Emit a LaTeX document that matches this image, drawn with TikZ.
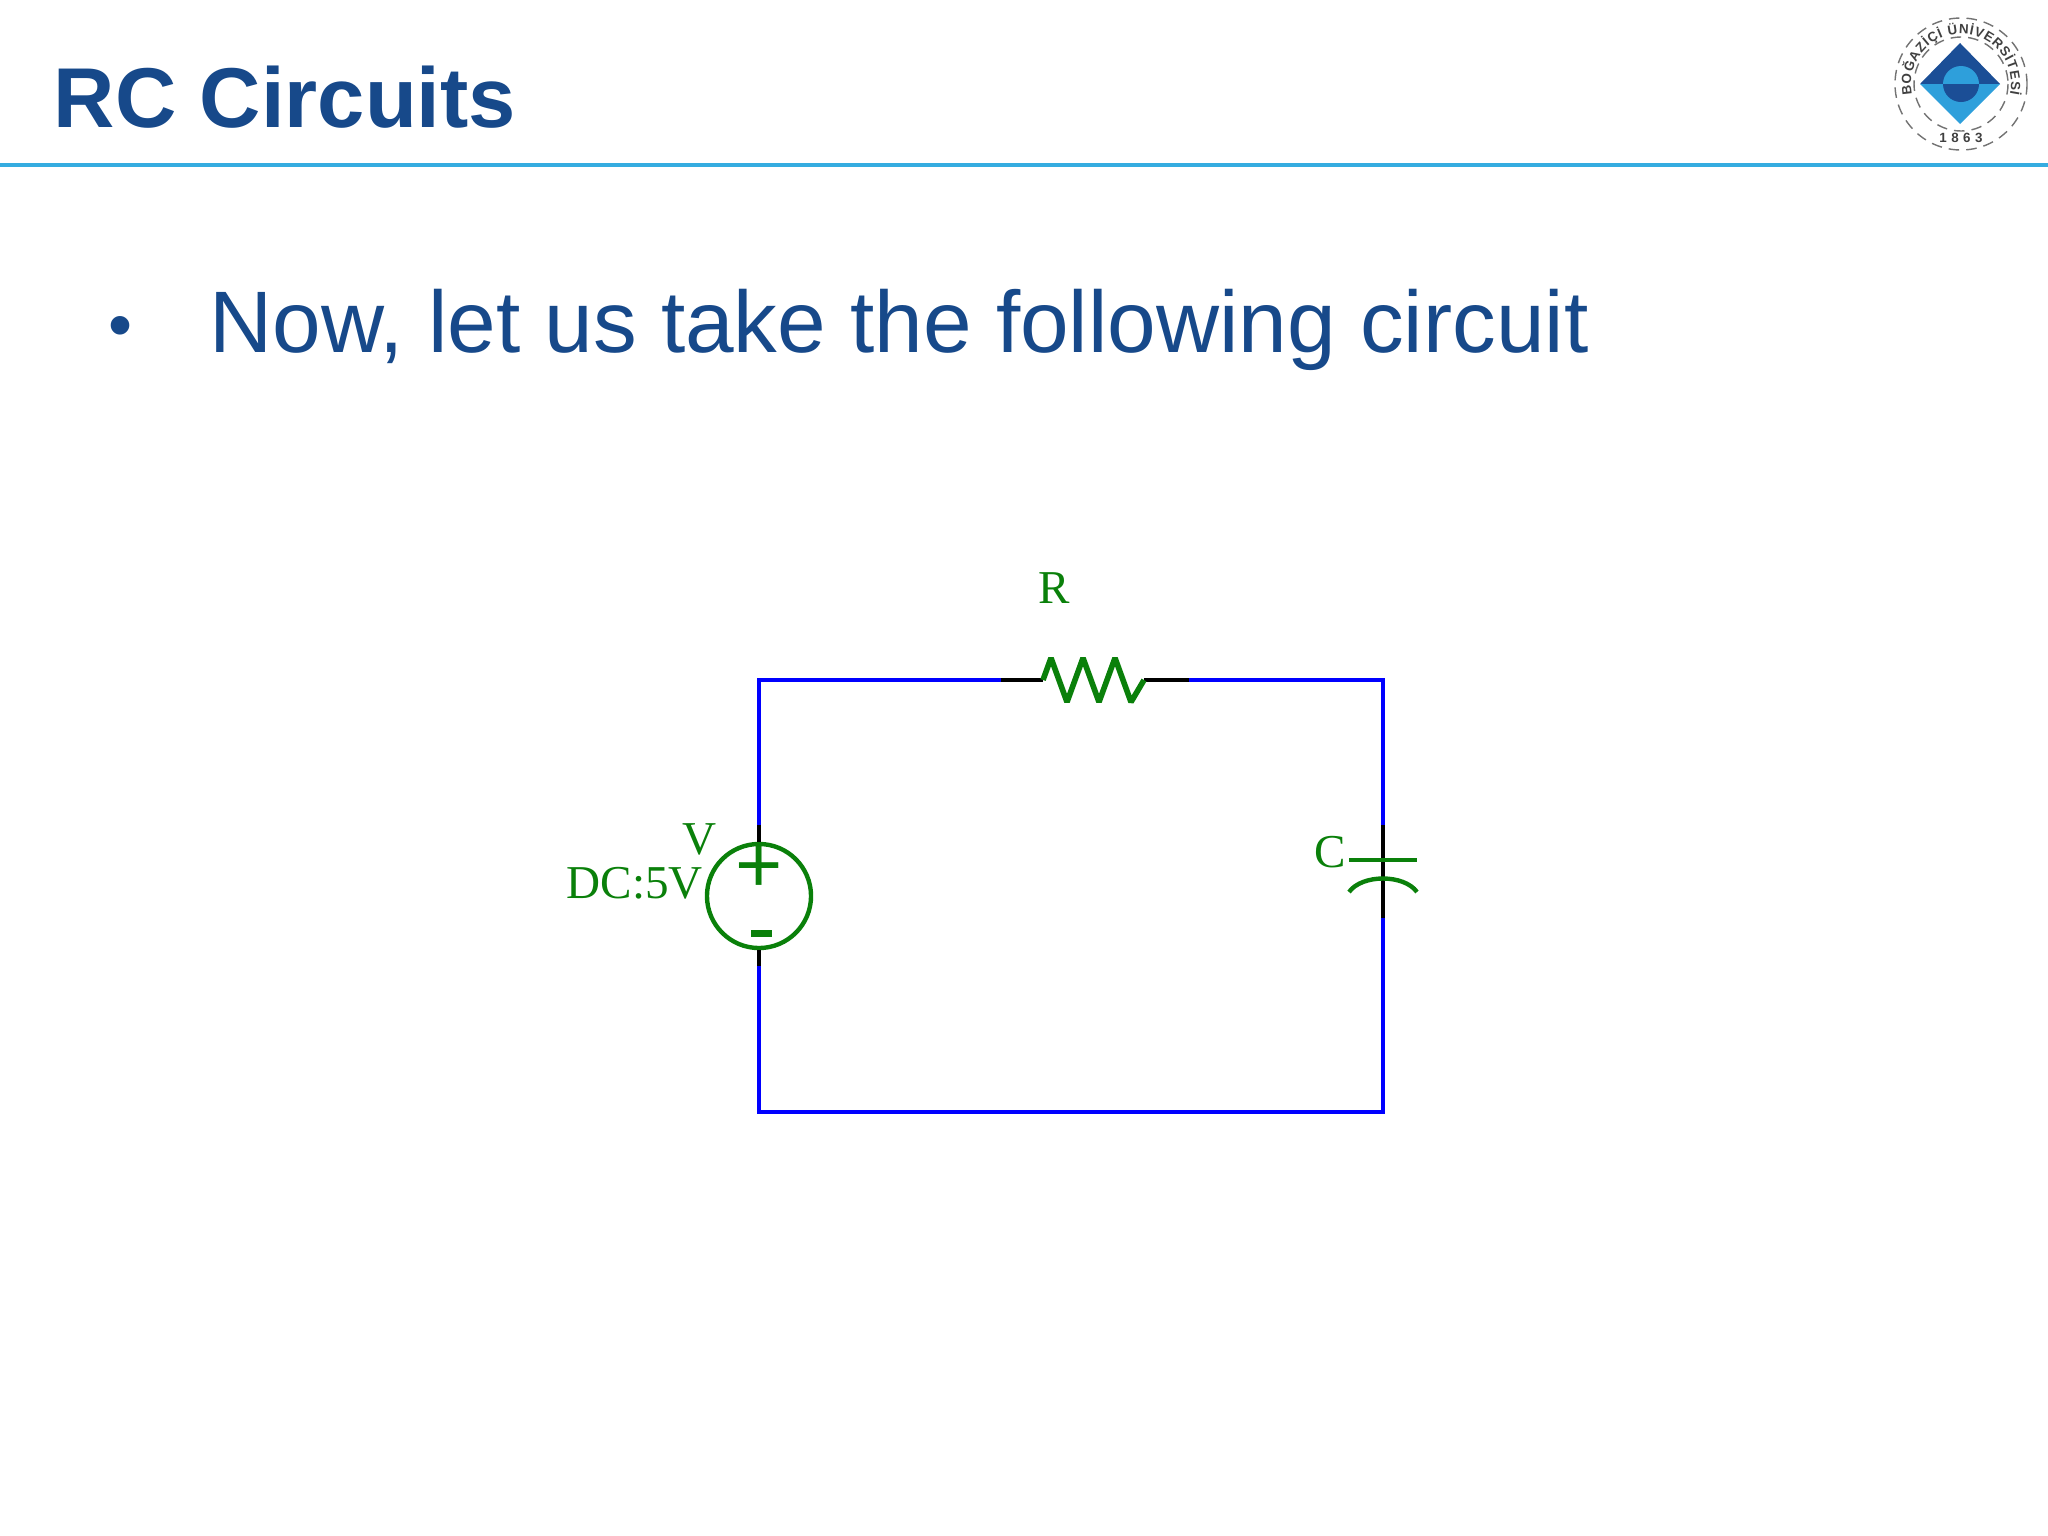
\documentclass[tikz,border=0pt]{standalone}
\usepackage{fontspec}
\setmainfont{Liberation Sans}
\newfontfamily\labelfont{Liberation Serif}
\usetikzlibrary{decorations.text}
\definecolor{titleblue}{HTML}{17498A}
\definecolor{rulecyan}{HTML}{35ACE0}
\definecolor{partgreen}{HTML}{0A800A}
\definecolor{logodark}{HTML}{1B4E96}
\definecolor{logolight}{HTML}{2E9FDB}
\newcommand{\sealfont}{\fontsize{3.8}{5}\selectfont\bfseries\color{black!75}}
\tikzset{
  wire/.style={draw=blue,line width=1.1pt},
  lead/.style={draw=black,line width=1.1pt},
  part/.style={draw=partgreen,line width=1.25pt},
  partlabel/.style={text=partgreen,font=\labelfont\fontsize{13.4}{14}\selectfont,inner sep=0pt,anchor=base west}
}
\begin{document}
\begin{tikzpicture}[x=0.01cm,y=-0.01cm]
\useasboundingbox (0,0) rectangle (2048,1536);

% header
\node[anchor=base west,inner sep=0pt,text=titleblue,font=\fontsize{24.15}{26}\selectfont\bfseries] (title) at (53,127) {RC Circuits};
\coordinate (ruleL) at (0,165);
\coordinate (ruleR) at (2048,165);
\draw[rulecyan,line width=1.1pt] (ruleL) -- (ruleR);
\node[anchor=base west,inner sep=0pt,text=titleblue,font=\fontsize{19.5}{21}\selectfont] (bulletmark) at (108,348) {•};
\node[anchor=base west,inner sep=0pt,text=titleblue,font=\fontsize{24.84}{27}\selectfont] (line) at (209,352) {Now, let us take the following circuit};

% logo
\coordinate (logo) at (1961,84);
\draw[black!55,densely dashed,line width=0.4pt] (logo) circle (66);
\draw[black!55,densely dashed,line width=0.4pt] (logo) circle (47);
\fill[logodark] (1920,84) -- (1960,43) -- (2000,84) -- cycle;
\fill[logolight] (1920,84) -- (1960,124) -- (2000,84) -- cycle;
\fill[logolight] (1943,84) arc[start angle=180,end angle=360,radius=18] -- cycle;
\fill[logodark] (1943,84) arc[start angle=180,end angle=0,radius=18] -- cycle;
\path[postaction={decorate,decoration={text along path,text align={fit to path},text={|\sealfont|BOĞAZİÇİ ÜNİVERSİTESİ}}}] (1912.1,94.4) arc[start angle=168,end angle=372,radius=50];
\node[inner sep=0pt,font=\sealfont] (year) at (1961,138) {1\,\,8\,\,6\,\,3};

% source
\node[circle,part,minimum size=1.04cm,inner sep=0pt] (vsrc) at (759,896) {};
\node[text=partgreen,inner sep=0pt,font=\fontsize{23}{23}\selectfont] (plus) at (759,869) {+};
\fill[partgreen] (751,930) rectangle (772,937);
\node[partlabel] (vname) at (682,854) {V};
\node[partlabel] (vvalue) at (566,898) {DC:5V};

% corners
\coordinate (topL) at (759,680);
\coordinate (topR) at (1383,680);
\coordinate (botL) at (759,1112);
\coordinate (botR) at (1383,1112);
\coordinate (srcT) at (759,825);
\coordinate (srcB) at (759,966);
\coordinate (resL) at (1001,680);
\coordinate (resa) at (1043,680);
\coordinate (resb) at (1144,680);
\coordinate (resR) at (1189,680);
\coordinate (capT) at (1383,825);
\coordinate (capB) at (1383,918);
\coordinate (capA) at (1383,860);

% wires
\draw[wire] (srcT) -- (topL) -- (resL);
\draw[wire] (resR) -- (topR) -- (capT);
\draw[wire] (capB) -- (botR) -- (botL) -- (srcB);

% leads
\draw[lead] (srcT) -- (vsrc.north);
\draw[lead] (vsrc.south) -- (srcB);
\draw[lead] (resL) -- (resa);
\draw[lead] (resb) -- (resR);
\draw[lead] (capT) -- (capB);

% resistor
\draw[part,line width=1.6pt,line join=bevel] (resa) -- (1051,658) -- (1067,702) -- (1083,658) -- (1099,702) -- (1115,658) -- (1131,702) -- (resb);
\node[partlabel] (rname) at (1038,603) {R};

% capacitor
\draw[part] (1349,860) -- (capA) -- (1417,860);
\draw[part] (1349,892) .. controls (1362,874) and (1404,874) .. (1417,892);
\node[partlabel] (cname) at (1314,867) {C};
\end{tikzpicture}
\end{document}
